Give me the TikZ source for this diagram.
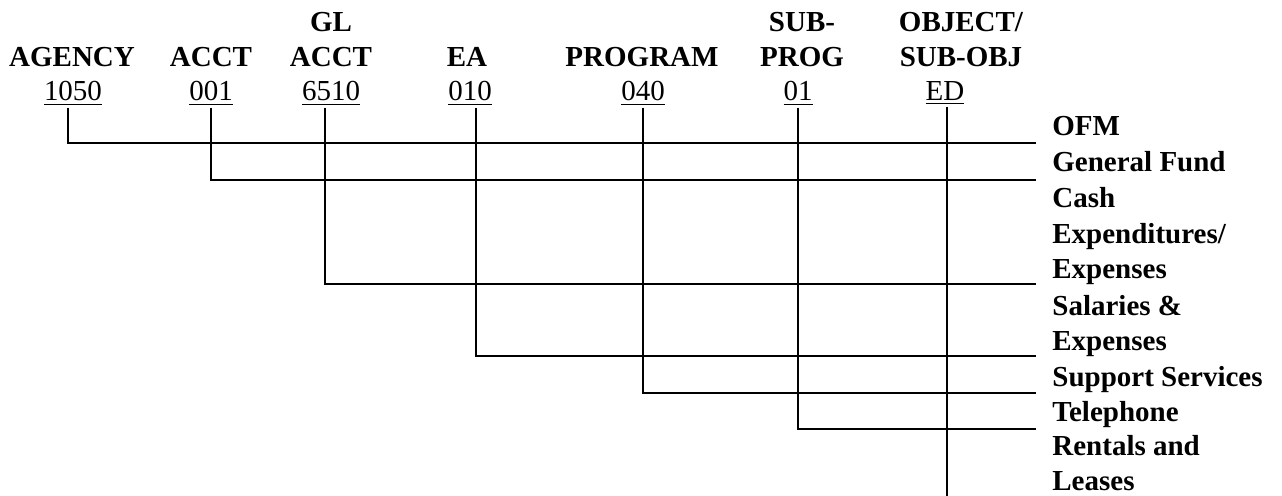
\documentclass[tikz,border=0pt]{standalone}
\usepackage{fontspec}
\setmainfont{Liberation Serif}
\usepackage{tikz}
\usetikzlibrary{calc}

\newcommand{\chartfont}{\fontsize{14.5}{17.85}\selectfont}

\tikzset{
  head/.style={font=\chartfont\bfseries, align=center, anchor=base, inner sep=0pt},
  code/.style={font=\chartfont, anchor=base, inner sep=1pt},
  item/.style={font=\chartfont\bfseries, align=left, anchor=base west, inner sep=0pt},
  wire/.style={line width=0.75pt}
}

\begin{document}
\begin{tikzpicture}[x=0.5pt,y=-0.5pt]
\useasboundingbox (0,0) rectangle (1282,496);

% column headings (base = last line)
\node[head] (hAgency) at (72,67) {AGENCY};
\node[head] (hAcct) at (211,67) {ACCT};
\node[head] (hGL) at (331,67) {GL\\ACCT};
\node[head] (hEA) at (467,67) {EA};
\node[head] (hProg) at (642,67) {PROGRAM};
\node[head] (hSub) at (802,67) {SUB-\\PROG};
\node[head] (hObj) at (961,67) {OBJECT/\\SUB-OBJ};

% codes
\node[code] (c1050) at (73,101) {\underline{1050}};
\node[code] (c001) at (211,101) {\underline{001}};
\node[code] (c6510) at (331,101) {\underline{6510}};
\node[code] (c010) at (470,101) {\underline{010}};
\node[code] (c040) at (643,101) {\underline{040}};
\node[code] (c01) at (798,101) {\underline{01}};
\node[code] (cED) at (945,101) {\underline{ED}};

% meanings
\node[item] (lOFM) at (1052,136) {OFM};
\node[item] (lFund) at (1052,172) {General Fund};
\node[item] (lCash) at (1052,279) {Cash\\Expenditures/\\Expenses};
\node[item] (lSal) at (1052,351) {Salaries \&\\Expenses};
\node[item] (lSupp) at (1052,387) {Support Services};
\node[item] (lTel) at (1052,422) {Telephone};
\node[item] (lRent) at (1052,491) {Rentals and\\Leases};

% line ends
\coordinate (eOFM) at (1036,143);
\coordinate (eFund) at (1036,180);
\coordinate (eCash) at (1036,284);
\coordinate (eSal) at (1036,356);
\coordinate (eSupp) at (1036,393);
\coordinate (eTel) at (1036,429);
\coordinate (eRent) at (947,496);

\draw[wire] ([xshift=-2.5pt]c1050.south) |- (eOFM);
\draw[wire] (c001.south) |- (eFund);
\draw[wire] ([xshift=-3pt]c6510.south) |- (eCash);
\draw[wire] ([xshift=3pt]c010.south) |- (eSal);
\draw[wire] (c040.south) |- (eSupp);
\draw[wire] (c01.south) |- (eTel);
\draw[wire] ([xshift=1pt]cED.south) -- (eRent);

\end{tikzpicture}
\end{document}
